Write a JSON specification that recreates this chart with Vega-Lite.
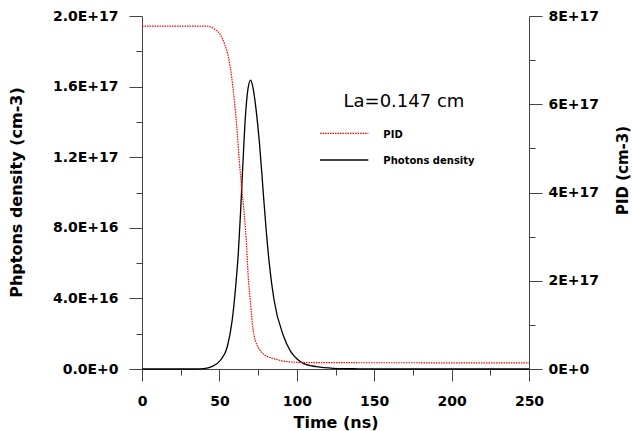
{
  "$schema": "https://vega.github.io/schema/vega-lite/v6.json",
  "width": 387,
  "height": 353,
  "autosize": {"type": "none"},
  "padding": {"left": 142, "top": 16, "right": 103, "bottom": 62},
  "background": "white",
  "config": {
    "view": {"stroke": null},
    "axis": {
      "grid": false,
      "labelFlush": false,
      "labelOverlap": false,
      "labelFont": "DejaVu Sans",
      "labelFontWeight": "bold",
      "labelFontSize": 14,
      "labelColor": "#000000",
      "titleFont": "DejaVu Sans",
      "titleFontWeight": "bold",
      "titleFontSize": 16,
      "titleColor": "#000000",
      "domainColor": "#444444",
      "tickColor": "#444444",
      "domainWidth": 1,
      "tickWidth": 1
    }
  },
  "datasets": {
    "photons": [
      {"t": 0, "v": 0}, {"t": 35, "v": 0}, {"t": 40, "v": 0.002e17}, {"t": 45, "v": 0.013e17},
      {"t": 50.8, "v": 0.051e17}, {"t": 55.1, "v": 0.126e17}, {"t": 58.3, "v": 0.278e17},
      {"t": 60.5, "v": 0.466e17}, {"t": 62.2, "v": 0.655e17}, {"t": 63.5, "v": 0.86e17},
      {"t": 64.5, "v": 1.04e17}, {"t": 65.5, "v": 1.22e17}, {"t": 66.5, "v": 1.39e17},
      {"t": 67.5, "v": 1.51e17}, {"t": 68.5, "v": 1.59e17}, {"t": 70.2, "v": 1.637e17},
      {"t": 71.8, "v": 1.59e17}, {"t": 73.6, "v": 1.477e17}, {"t": 75.8, "v": 1.288e17},
      {"t": 77.5, "v": 1.099e17}, {"t": 78.4, "v": 0.99e17}, {"t": 80.1, "v": 0.8e17},
      {"t": 82.2, "v": 0.6e17}, {"t": 85.3, "v": 0.391e17}, {"t": 91.3, "v": 0.19e17},
      {"t": 96, "v": 0.1e17}, {"t": 100, "v": 0.058e17}, {"t": 104.2, "v": 0.032e17},
      {"t": 112.8, "v": 0.013e17}, {"t": 123.6, "v": 0.004e17},
      {"t": 140, "v": 0.001e17}, {"t": 155, "v": 0}, {"t": 250, "v": 0}
    ],
    "pid": [
      {"t": 0, "v": 7.77e17}, {"t": 42, "v": 7.77e17}, {"t": 47, "v": 7.7e17},
      {"t": 50.5, "v": 7.58e17}, {"t": 53.6, "v": 7.34e17}, {"t": 56.8, "v": 6.89e17},
      {"t": 59, "v": 6.3e17}, {"t": 61.2, "v": 5.5e17}, {"t": 62.9, "v": 4.7e17},
      {"t": 64.4, "v": 4.1e17}, {"t": 66.1, "v": 3.5e17}, {"t": 67.6, "v": 2.77e17},
      {"t": 68.6, "v": 2.1e17}, {"t": 69.8, "v": 1.62e17}, {"t": 70.8, "v": 1.2e17},
      {"t": 71.9, "v": 0.86e17}, {"t": 73.5, "v": 0.62e17}, {"t": 76.2, "v": 0.43e17},
      {"t": 79.5, "v": 0.31e17}, {"t": 84.8, "v": 0.24e17}, {"t": 93, "v": 0.17e17},
      {"t": 102, "v": 0.15e17}, {"t": 120, "v": 0.143e17}, {"t": 250, "v": 0.14e17}
    ]
  },
  "layer": [
    {
      "layer": [
        {
          "data": {"name": "photons"},
          "mark": {"type": "line", "color": "#000000", "strokeWidth": 1.3, "interpolate": "monotone"},
          "encoding": {
            "x": {
              "field": "t", "type": "quantitative",
              "scale": {"domain": [0, 250], "nice": false, "zero": false},
              "axis": {
                "orient": "bottom", "values": [0, 50, 100, 150, 200, 250],
                "tickSize": 12, "labelPadding": 13, "title": "Time (ns)",
                "titleBaseline": "middle", "titleY": 53
              }
            },
            "y": {
              "field": "v", "type": "quantitative",
              "scale": {"domain": [0, 2e17], "nice": false, "zero": true},
              "axis": {
                "orient": "left", "values": [0, 4e16, 8e16, 1.2e17, 1.6e17, 2e17],
                "labelExpr": "replace(format(datum.value, '.1e'), 'e', 'E')",
                "tickSize": 13, "labelPadding": 11,
                "title": "Phptons density (cm-3)",
                "titleAngle": 270, "titleBaseline": "middle", "titleAlign": "center",
                "titleX": -126, "titleY": 176
              }
            }
          }
        },
        {
          "data": {"values": [{"x1": 115, "x2": 146.2, "y": 1.184e17}]},
          "mark": {"type": "rule", "color": "#000000", "strokeWidth": 1.3},
          "encoding": {
            "x": {
              "field": "x1", "type": "quantitative",
              "axis": {
                "orient": "bottom", "values": [25, 75, 125, 175, 225],
                "tickSize": 6, "labels": false, "domain": false, "title": null
              }
            },
            "x2": {"field": "x2"},
            "y": {
              "field": "y", "type": "quantitative",
              "axis": {
                "orient": "left", "values": [2e16, 6e16, 1e17, 1.4e17, 1.8e17],
                "tickSize": 6, "labels": false, "domain": false, "title": null
              }
            }
          }
        },
        {
          "data": {"values": [{"x": 155.9, "y": 1.18e17, "label": "Photons density"}]},
          "mark": {"type": "text", "font": "DejaVu Sans", "fontWeight": "bold", "fontSize": 10, "align": "left", "baseline": "middle", "color": "#000000"},
          "encoding": {
            "x": {"field": "x", "type": "quantitative", "axis": null},
            "y": {"field": "y", "type": "quantitative", "axis": null},
            "text": {"field": "label"}
          }
        },
        {
          "data": {"values": [{"x": 169.2, "y": 1.5144e17, "label": "La=0.147 cm"}]},
          "mark": {"type": "text", "font": "DejaVu Sans", "fontSize": 18, "align": "center", "baseline": "middle", "color": "#000000"},
          "encoding": {
            "x": {"field": "x", "type": "quantitative", "axis": null},
            "y": {"field": "y", "type": "quantitative", "axis": null},
            "text": {"field": "label"}
          }
        }
      ],
      "resolve": {"axis": {"x": "independent", "y": "independent"}}
    },
    {
      "layer": [
        {
          "data": {"name": "pid"},
          "mark": {"type": "line", "color": "#ff0000", "strokeWidth": 1.2, "strokeDash": [1.5, 1], "interpolate": "monotone"},
          "encoding": {
            "x": {"field": "t", "type": "quantitative", "axis": null},
            "y": {
              "field": "v", "type": "quantitative",
              "scale": {"domain": [0, 8e17], "nice": false, "zero": true},
              "axis": {
                "orient": "right", "values": [0, 2e17, 4e17, 6e17, 8e17],
                "labelExpr": "replace(format(datum.value, '.0e'), 'e', 'E')",
                "tickSize": 13, "labelPadding": 6,
                "title": "PID (cm-3)", "titleFontSize": 15,
                "titleAngle": 270, "titleBaseline": "middle", "titleAlign": "center",
                "titleX": 93, "titleY": 154
              }
            }
          }
        },
        {
          "data": {"values": [{"x1": 115, "x2": 146.2, "y": 5.3417e17}]},
          "mark": {"type": "rule", "color": "#ff0000", "strokeWidth": 1.2, "strokeDash": [1.5, 1]},
          "encoding": {
            "x": {"field": "x1", "type": "quantitative", "axis": null},
            "x2": {"field": "x2"},
            "y": {
              "field": "y", "type": "quantitative",
              "axis": {
                "orient": "right", "values": [1e17, 3e17, 5e17, 7e17],
                "tickSize": 6, "labels": false, "domain": false, "title": null
              }
            }
          }
        },
        {
          "data": {"values": [{"x": 155.9, "y": 5.3031e17, "label": "PID"}]},
          "mark": {"type": "text", "font": "DejaVu Sans", "fontWeight": "bold", "fontSize": 10, "align": "left", "baseline": "middle", "color": "#000000"},
          "encoding": {
            "x": {"field": "x", "type": "quantitative", "axis": null},
            "y": {"field": "y", "type": "quantitative", "axis": null},
            "text": {"field": "label"}
          }
        }
      ],
      "resolve": {"axis": {"y": "independent"}}
    }
  ],
  "resolve": {"scale": {"y": "independent"}, "axis": {"y": "independent"}}
}
